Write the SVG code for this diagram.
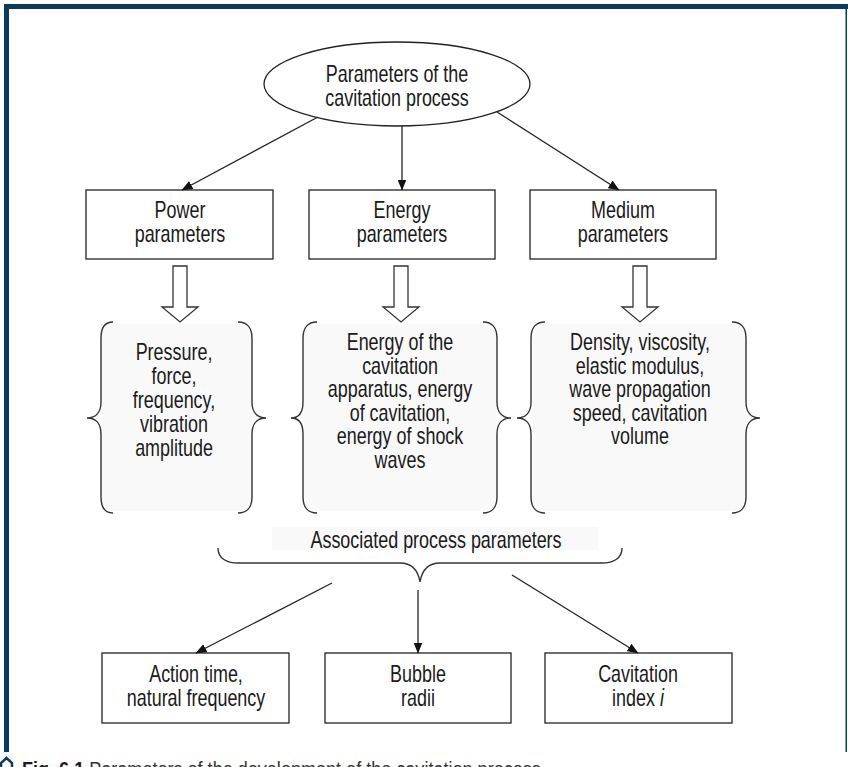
<svg xmlns="http://www.w3.org/2000/svg" width="848" height="767" viewBox="0 0 848 767">
<style>
.t{font-family:"Liberation Sans",Arial,sans-serif;font-size:23px;fill:#1a1a1a;text-anchor:middle}
.cap{font-family:"Liberation Sans",Arial,sans-serif;font-size:21px;fill:#333}
.box{fill:#fff;stroke:#222;stroke-width:1.3}
.ln{fill:none;stroke:#222;stroke-width:1.3}
.br{fill:none;stroke:#333;stroke-width:1.4}
.hol{fill:#fff;stroke:#333;stroke-width:1.3;stroke-linejoin:miter}
.pan{fill:#f9f9f9}
</style>
<defs>
<marker id="ah" markerWidth="11" markerHeight="9" refX="10.5" refY="4.5" orient="auto" markerUnits="userSpaceOnUse">
<path d="M0,0 L11,4.5 L0,9 Z" fill="#111"/>
</marker>
</defs>
<rect width="848" height="767" fill="#fff"/>
<g id="frame">
<rect x="4" y="4" width="844" height="5" fill="#0b3c5d"/>
<rect x="4" y="4" width="5" height="748" fill="#0b3c5d"/>
<rect x="845.5" y="9" width="1.5" height="743" fill="#0b3c5d"/>
</g>
<g id="root">
<ellipse cx="397" cy="84" rx="133" ry="42" class="box"/>
<text class="t" transform="matrix(.78 0 0 1 397 0)"><tspan x="0" y="82">Parameters of the</tspan><tspan x="0" y="106">cavitation process</tspan></text>
</g>
<g id="power">
<rect x="86" y="190" width="187" height="69" class="box"/>
<text class="t" transform="matrix(.78 0 0 1 180 0)"><tspan x="0" y="218">Power</tspan><tspan x="0" y="242">parameters</tspan></text>
</g>
<g id="energy">
<rect x="309" y="190" width="186" height="69" class="box"/>
<text class="t" transform="matrix(.78 0 0 1 402 0)"><tspan x="0" y="218">Energy</tspan><tspan x="0" y="242">parameters</tspan></text>
</g>
<g id="medium">
<rect x="530" y="190" width="186" height="69" class="box"/>
<text class="t" transform="matrix(.78 0 0 1 623 0)"><tspan x="0" y="218">Medium</tspan><tspan x="0" y="242">parameters</tspan></text>
</g>
<g id="power-list">
<rect x="102" y="324" width="150" height="187" rx="10" class="pan"/>
<path class="br" d="M113,322 C104,322 101,328 101,338 L101,402 C101,412 96,418 87,418 C96,418 101,424 101,434 L101,497 C101,507 104,513 113,513"/>
<path class="br" d="M238,322 C247,322 252,328 252,338 L252,402 C252,412 257,418 266,418 C257,418 252,424 252,434 L252,497 C252,507 247,513 238,513"/>
<text class="t" transform="matrix(.78 0 0 1 174 0)"><tspan x="0" y="360">Pressure,</tspan><tspan x="0" y="384">force,</tspan><tspan x="0" y="408">frequency,</tspan><tspan x="0" y="432">vibration</tspan><tspan x="0" y="456">amplitude</tspan></text>
</g>
<g id="energy-list">
<rect x="304" y="324" width="192" height="187" rx="10" class="pan"/>
<path class="br" d="M317,322 C308,322 303,328 303,338 L303,402 C303,412 300,418 291,418 C300,418 303,424 303,434 L303,497 C303,507 308,513 317,513"/>
<path class="br" d="M483,322 C492,322 497,328 497,338 L497,402 C497,412 502,418 511,418 C502,418 497,424 497,434 L497,497 C497,507 492,513 483,513"/>
<text class="t" transform="matrix(.78 0 0 1 400 0)"><tspan x="0" y="350">Energy of the</tspan><tspan x="0" y="373.6">cavitation</tspan><tspan x="0" y="397.2">apparatus, energy</tspan><tspan x="0" y="420.8">of cavitation,</tspan><tspan x="0" y="444.4">energy of shock</tspan><tspan x="0" y="468">waves</tspan></text>
</g>
<g id="medium-list">
<rect x="532" y="324" width="214" height="187" rx="10" class="pan"/>
<path class="br" d="M545,322 C536,322 531,328 531,338 L531,402 C531,412 526,418 517,418 C526,418 531,424 531,434 L531,497 C531,507 536,513 545,513"/>
<path class="br" d="M732,322 C741,322 746,328 746,338 L746,402 C746,412 751,418 760,418 C751,418 746,424 746,434 L746,497 C746,507 741,513 732,513"/>
<text class="t" transform="matrix(.78 0 0 1 640 0)"><tspan x="0" y="350">Density, viscosity,</tspan><tspan x="0" y="373.6">elastic modulus,</tspan><tspan x="0" y="397.2">wave propagation</tspan><tspan x="0" y="420.8">speed, cavitation</tspan><tspan x="0" y="444.4">volume</tspan></text>
</g>
<g id="associated">
<rect x="272" y="527" width="326" height="23" class="pan"/>
<path class="br" d="M218,548 C218,558 226,563 238,563 L400,563 C412,563 418,570 420,582 C422,570 428,563 440,563 L602,563 C614,563 622,558 622,548"/>
<text class="t" transform="matrix(.78 0 0 1 436 0)"><tspan x="0" y="548">Associated process parameters</tspan></text>
</g>
<g id="action">
<rect x="102" y="653" width="187" height="70" class="box"/>
<text class="t" transform="matrix(.78 0 0 1 196 0)"><tspan x="0" y="682">Action time,</tspan><tspan x="0" y="706">natural frequency</tspan></text>
</g>
<g id="bubble">
<rect x="325" y="653" width="186" height="70" class="box"/>
<text class="t" transform="matrix(.78 0 0 1 418 0)"><tspan x="0" y="682">Bubble</tspan><tspan x="0" y="706">radii</tspan></text>
</g>
<g id="cavindex">
<rect x="545" y="653" width="187" height="70" class="box"/>
<text class="t" transform="matrix(.78 0 0 1 638 0)"><tspan x="0" y="682">Cavitation</tspan><tspan x="0" y="706">index <tspan font-style="italic">i</tspan></tspan></text>
</g>
<g id="connectors">
<line class="ln" x1="318" y1="117" x2="182" y2="190" marker-end="url(#ah)"/>
<line class="ln" x1="402" y1="126" x2="402" y2="190" marker-end="url(#ah)"/>
<line class="ln" x1="497" y1="112" x2="619" y2="190" marker-end="url(#ah)"/>
<path class="hol" d="M173,266 H187 V307 H198 L180,322 L162,307 H173 Z"/>
<path class="hol" d="M394,266 H408 V307 H419 L401,322 L383,307 H394 Z"/>
<path class="hol" d="M633,266 H647 V307 H658 L640,322 L622,307 H633 Z"/>
<line class="ln" x1="332" y1="583" x2="196" y2="653" marker-end="url(#ah)"/>
<line class="ln" x1="418" y1="590" x2="418" y2="653" marker-end="url(#ah)"/>
<line class="ln" x1="512" y1="575" x2="638" y2="653" marker-end="url(#ah)"/>
</g>
<g id="caption">
<path d="M1,767 L1,763 L6.5,758 L12,763 L12,767" fill="none" stroke="#0b3c5d" stroke-width="2.5"/>
<text class="cap" transform="matrix(.86 0 0 1 22 0)" y="776"><tspan font-weight="bold" fill="#1a1a1a">Fig. 6.1</tspan> Parameters of the development of the cavitation process</text>
</g>
</svg>
